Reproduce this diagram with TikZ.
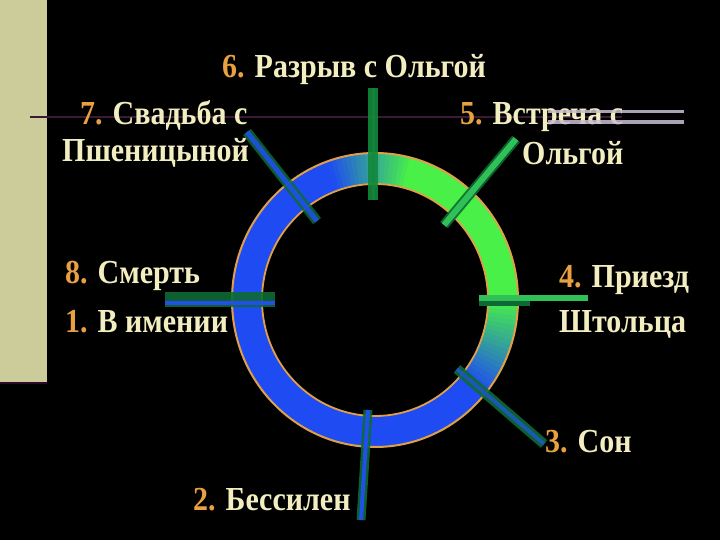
\documentclass[tikz,border=0pt]{standalone}
\usepackage{fontspec}
\usepackage{graphicx}
\setmainfont{Liberation Serif}
\definecolor{beige}{HTML}{CCCB9A}
\definecolor{stripline}{HTML}{300828}
\definecolor{hline}{HTML}{3A1A36}
\definecolor{greybar}{HTML}{C8C0D4}
\definecolor{ringB}{HTML}{1E4CF2}
\definecolor{ringG}{HTML}{48F048}
\definecolor{rimc}{HTML}{E0A048}
\definecolor{cream}{HTML}{F2EEC0}
\definecolor{numc}{HTML}{E8A040}
\definecolor{barG}{HTML}{108A3A}
\definecolor{barD}{HTML}{0E6A34}
\definecolor{barL}{HTML}{30C058}
\definecolor{barB}{HTML}{2050E8}
\tikzset{
  lbl/.style={anchor=base west, inner sep=0pt, text=cream,
    font=\fontsize{30}{36}\selectfont\bfseries},
}
\newcommand{\nm}[1]{{\color{numc}#1}}
\newcommand{\tall}[1]{\scalebox{1}[1.12]{#1}}
\begin{document}
\begin{tikzpicture}[x=1pt,y=-1pt]
\useasboundingbox (0,0) rectangle (720,540);
\fill[black] (0,0) rectangle (720,540);
% left strip
\fill[beige] (0,0) rectangle (47,382);
\draw[stripline, line width=2pt] (0,383) -- (47,383);
% horizontal line
\coordinate (hl1) at (30,117);
\coordinate (hl2) at (622,117);
\draw[hline, line width=1.6pt] (hl1) -- (hl2);
% ring
\begin{scope}[shift={(375,300)}]
\foreach \a in {0,2,...,358}{
  \pgfmathsetmacro\b{(\a+1>180) ? (\a+1-360) : (\a+1)}
  \pgfmathtruncatemacro\p{max(0,min(100,min((110-\b)/35*100,(\b+40)/40*100)))}
  \pgfmathsetmacro\e{\a+2.6}
  \fill[ringG!\p!ringB] (\a:143pt and 147pt)
    arc[start angle=\a, end angle=\e, x radius=143pt, y radius=147pt]
    -- (\e:113pt and 116pt)
    arc[start angle=\e, end angle=\a, x radius=113pt, y radius=116pt] -- cycle;
}
\draw[rimc, line width=2pt] (0,0) ellipse[x radius=143pt, y radius=147pt];
\draw[rimc, line width=1.8pt] (0,0) ellipse[x radius=113pt, y radius=116pt];
\end{scope}
% bars
\coordinate (b6a) at (373,88);  \coordinate (b6b) at (373,200);
\coordinate (b7a) at (247,132); \coordinate (b7b) at (317,221);
\coordinate (b5a) at (516,139); \coordinate (b5b) at (444,225);
\coordinate (b8a) at (165,299); \coordinate (b8b) at (275,299);
\coordinate (b1a) at (165,303); \coordinate (b1b) at (275,303);
\coordinate (b4a) at (479,298); \coordinate (b4b) at (588,298);
\coordinate (b4c) at (479,303); \coordinate (b4d) at (530,303);
\coordinate (b3a) at (457,369); \coordinate (b3b) at (544,444);
\coordinate (b2a) at (368,410); \coordinate (b2b) at (361,520);
\draw[barG, line width=10pt, opacity=0.9] (b6a) -- (b6b);
\draw[barD!70!barL, line width=3pt, opacity=0.7] (b6a) -- (b6b);
\draw[barD, line width=10pt, opacity=0.85] (b7a) -- (b7b);
\draw[barB, line width=5pt, opacity=0.9] (b7a) -- (b7b);
\draw[barD, line width=10pt, opacity=0.9] (b5a) -- (b5b);
\draw[barL, line width=6pt] (b5a) -- (b5b);
\draw[barD, line width=15pt, opacity=0.9] (b8a) -- (b8b);
\draw[barB, line width=4pt] (b1a) -- (b1b);
\draw[barD, line width=5pt] (b4c) -- (b4d);
\draw[barL, line width=6pt] (b4a) -- (b4b);
\draw[barD, line width=10pt, opacity=0.9] (b3a) -- (b3b);
\draw[barB!70!barD, line width=4pt] (b3a) -- (b3b);
\draw[barD, line width=9pt, opacity=0.9] (b2a) -- (b2b);
\draw[barB, line width=4pt] (b2a) -- (b2b);
% texts
\node[lbl] (t6) at (222,78) {\tall{\nm{6.} Разрыв с Ольгой}};
\node[lbl] (t7a) at (80,125) {\tall{\nm{7.} Свадьба с}};
\node[lbl] (t7b) at (62,162) {\tall{Пшеницыной}};
\node[lbl] (t5a) at (460,125) {\tall{\nm{5.} Встреча с}};
\node[lbl] (t5b) at (522,165) {\tall{Ольгой}};
\node[lbl] (t8) at (65,283) {\tall{\nm{8.} Смерть}};
\node[lbl] (t1) at (65,332) {\tall{\nm{1.} В имении}};
\node[lbl] (t4a) at (559,287) {\tall{\nm{4.} Приезд}};
\node[lbl] (t4b) at (559,332) {\tall{Штольца}};
\node[lbl] (t3) at (545,452) {\tall{\nm{3.} Сон}};
\node[lbl] (t2) at (193,510) {\tall{\nm{2.} Бессилен}};
% grey bars
\fill[greybar, opacity=0.85] (548,110) rectangle (684,113);
\fill[greybar, opacity=0.85] (548,120.5) rectangle (684,124);
\end{tikzpicture}
\end{document}
